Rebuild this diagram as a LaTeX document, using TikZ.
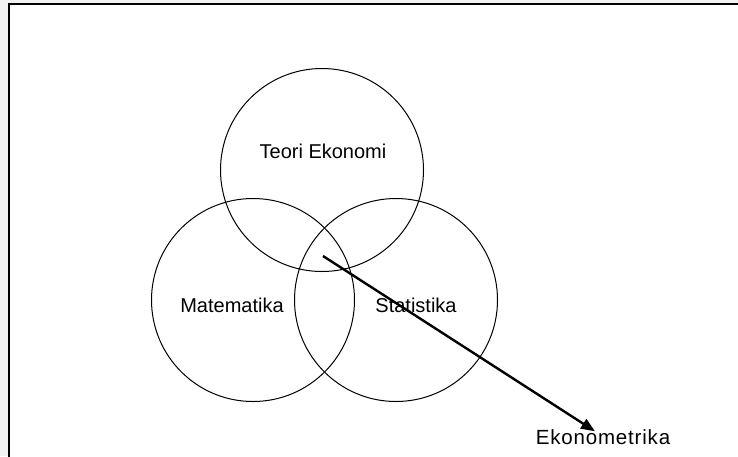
\documentclass[tikz,border=0pt]{standalone}
\usepackage{fontspec}
\setmainfont{Liberation Sans}
\newfontfamily\widesans[LetterSpace=4]{Liberation Sans}
\usetikzlibrary{positioning,arrows.meta}

\begin{document}
\begin{tikzpicture}[x=1pt,y=-1pt,set/.style={draw,circle,line width=1pt,minimum size=203pt,inner sep=0pt},label/.style={font=\fontsize{20}{23}\selectfont,inner sep=0pt},line/.style={-{Triangle[length=14pt,width=11pt]},line width=2.4pt}]
\fill[black!5] (0,0) rectangle (738,456);
\useasboundingbox (0,0) rectangle (738,456);
\fill[white] (9,4) rectangle (738,456);
\draw[line width=2pt] (9,470) -- (9,4) -- (740,4);
% three circles
\node[set] (teori) at (322,170) {};
\node[set] (mat) at (253,300) {};
\node[set] (stat) at (396,300) {};
\node[label] (tl) at (323,151) {Teori Ekonomi};
\node[label] (ml) at (232,305) {Matematika};
\node[label] (sl) at (416,305) {Statistika};
\node[label,font=\widesans\fontsize{20.5}{23}\selectfont] (eko) at (603,437) {Ekonometrika};
\coordinate (mid) at (323,256);
\draw[line] (mid)--([xshift=-8pt,yshift=-2pt]eko.north);
\end{tikzpicture}
\end{document}
